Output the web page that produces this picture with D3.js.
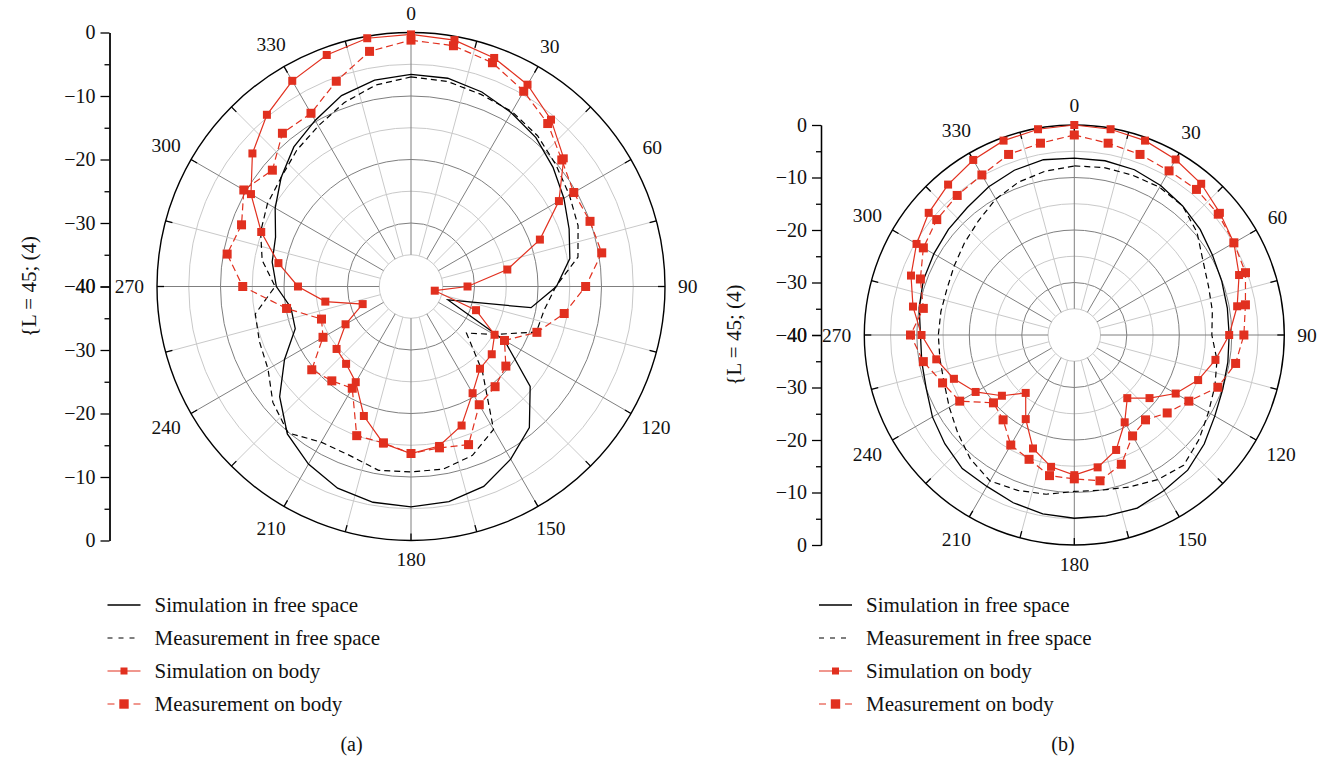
<!DOCTYPE html>
<html>
<head>
<meta charset="utf-8">
<script src="https://cdn.jsdelivr.net/npm/d3@7"></script>
<style>
  html, body { margin: 0; padding: 0; background: #fff; }
  svg { display: block; font-family: "Liberation Serif", "DejaVu Serif", serif; }
</style>
</head>
<body>
<svg id="chart" width="1337" height="759"></svg>
<script>
// Sampling angles (degrees, clockwise from top) shared by every pattern
const angles = d3.range(0, 360, 10);
const angleLabels = d3.range(0, 360, 30);
const radialMajor = [0, -10, -20, -30, -40];
const radialMinor = [-5, -15, -25, -35];
const legendLabels = ["Simulation in free space", "Measurement in free space", "Simulation on body", "Measurement on body"];
const captions = ["(a)", "(b)"];
const axisTitle = "{L = 45; (4)";

// Panel (a) gain patterns, dB
const aSimFree  = [-6.6, -6.7, -7.4, -8.4, -9.4, -10.8, -12.2, -13.5, -14.6, -17.1, -20.8, -33.8,
                   -23.0, -15.5, -11.0, -8.6, -6.5, -5.6, -5.3, -5.5, -6.2, -7.7, -9.7, -13.0,
                   -17.0, -20.6, -20.8, -18.8, -17.8, -17.3, -15.3, -13.3, -11.3, -9.8, -8.0, -7.0];
const aMeasFree = [-7.0, -7.2, -7.8, -8.2, -9.0, -10.2, -11.2, -12.0, -13.3, -17.2, -18.7, -19.0,
                   -24.9, -28.6, -22.5, -14.0, -11.7, -10.8, -10.8, -10.6, -11.7, -11.7, -9.9, -11.6,
                   -14.0, -14.6, -15.1, -18.6, -16.2, -14.8, -13.9, -13.3, -12.0, -10.8, -9.2, -7.8];
const aSimBody  = [-0.3, -0.6, -1.7, -3.3, -5.7, -8.6, -13.1, -18.4, -24.6, -31.1, -36.2, -29.1,
                   -24.8, -23.4, -23.1, -20.6, -16.7, -14.5, -13.7, -14.9, -18.3, -22.6, -24.1, -24.7,
                   -28.1, -31.9, -26.3, -22.2, -18.8, -14.9, -10.9, -7.4, -4.7, -2.6, -1.2, -0.3];
const aMeasBody = [-1.2, -1.5, -2.5, -4.5, -6.5, -9.0, -10.4, -10.0, -9.5, -12.5, -15.5, -18.9,
                   -23.0, -20.5, -19.4, -18.5, -13.5, -14.2, -13.7, -15.0, -15.0, -21.5, -20.6, -19.6,
                   -24.0, -25.0, -20.1, -13.5, -10.6, -11.6, -9.6, -11.5, -8.5, -8.5, -5.6, -2.4];

// Panel (b) gain patterns, dB
const bSimFree  = [-6.3, -6.3, -6.5, -7.1, -7.9, -8.7, -9.6, -10.1, -10.4, -10.5, -10.3, -9.9,
                   -9.1, -7.7, -6.4, -5.8, -4.9, -5.0, -5.1, -5.4, -6.0, -6.7, -6.8, -7.8,
                   -8.8, -10.0, -10.5, -10.7, -10.0, -9.4, -9.1, -8.7, -8.3, -7.4, -6.6, -6.1];
const bMeasFree = [-7.8, -7.6, -7.6, -7.5, -7.9, -9.5, -11.7, -12.8, -13.3, -13.8, -12.4, -11.5,
                   -10.5, -9.0, -7.6, -8.2, -9.2, -10.0, -10.2, -9.2, -8.5, -7.9, -9.2, -11.0,
                   -12.5, -13.6, -14.0, -14.1, -14.2, -14.2, -13.6, -12.7, -11.6, -10.1, -9.0, -8.3];
const bSimBody  = [0.0, -0.2, -0.6, -1.4, -2.4, -3.8, -4.9, -6.6, -8.5, -10.5, -12.7, -14.9,
                   -17.7, -21.3, -24.3, -20.8, -16.7, -14.4, -13.3, -14.5, -17.0, -21.5, -25.6, -22.0,
                   -18.3, -15.6, -13.3, -10.9, -8.8, -6.9, -5.3, -3.8, -2.6, -1.5, -0.6, -0.2];
const bMeasBody = [-1.9, -2.9, -3.4, -3.9, -3.8, -4.2, -4.9, -5.3, -6.9, -7.7, -8.8, -10.9,
                   -14.8, -16.9, -18.9, -17.8, -13.8, -11.8, -12.6, -12.8, -14.8, -15.8, -18.9, -19.9,
                   -14.8, -13.3, -10.8, -8.8, -10.8, -8.8, -6.8, -5.8, -5.3, -4.8, -3.4, -2.9];

const RED = "#e1301f";
const GRID_DARK = "#7f7f7f";
const GRID_LIGHT = "#c9c9c9";

const panels = [
  { cx: 411, cy: 286.5, R: 254, axisX: 109.5, titleX: 29, caption: captions[0],
    simFree: aSimFree, measFree: aMeasFree, simBody: aSimBody, measBody: aMeasBody },
  { cx: 1074.3, cy: 335, R: 210, axisX: 821, titleX: 734, caption: captions[1],
    simFree: bSimFree, measFree: bMeasFree, simBody: bSimBody, measBody: bMeasBody }
];

const svg = d3.select("#chart");
const rad = d => d * Math.PI / 180;

panels.forEach(p => {
  const g = svg.append("g");
  const r = d3.scaleLinear().domain([-40, 0]).range([0, p.R]);
  const plot = g.append("g").attr("transform", `translate(${p.cx},${p.cy})`);

  // rings every 5 dB (dark at tens) between -35 and -5
  const rings = d3.range(-35, 0, 5);
  plot.selectAll("circle.ring").data(rings).join("circle")
    .attr("r", d => r(d)).attr("fill", "none")
    .attr("stroke", d => d % 10 === 0 ? GRID_DARK : GRID_LIGHT).attr("stroke-width", 1);

  // spokes every 15 degrees
  const spokes = d3.range(0, 360, 15);
  plot.selectAll("line.spoke").data(spokes).join("line")
    .attr("x1", d => r(-35) * Math.sin(rad(d))).attr("y1", d => -r(-35) * Math.cos(rad(d)))
    .attr("x2", d => r(0) * Math.sin(rad(d))).attr("y2", d => -r(0) * Math.cos(rad(d)))
    .attr("stroke", d => d % 30 === 0 ? GRID_DARK : GRID_LIGHT).attr("stroke-width", 1);

  // outer boundary with inward ticks
  plot.append("circle").attr("r", r(0)).attr("fill", "none").attr("stroke", "#000").attr("stroke-width", 1.4);
  plot.selectAll("line.otick").data(spokes).join("line")
    .attr("x1", d => (r(0) - 7) * Math.sin(rad(d))).attr("y1", d => -(r(0) - 7) * Math.cos(rad(d)))
    .attr("x2", d => r(0) * Math.sin(rad(d))).attr("y2", d => -r(0) * Math.cos(rad(d)))
    .attr("stroke", "#000").attr("stroke-width", 1.3);

  // angle labels
  angleLabels.forEach(a => {
    const t = plot.append("text").text(a)
      .attr("font-size", 19.5).attr("fill", "#111")
      .attr("text-anchor", "middle").attr("dominant-baseline", "central");
    const w = t.node().getComputedTextLength();
    const s = Math.sin(rad(a)), c = Math.cos(rad(a));
    const dist = r(0) + 13 + (w / 2) * Math.abs(s) + 6.3 * Math.abs(c);
    t.attr("x", dist * s).attr("y", -dist * c);
  });

  // patterns
  const line = d3.lineRadial()
    .angle((d, i) => rad(angles[i]))
    .radius(d => r(d))
    .curve(d3.curveLinearClosed);

  plot.append("path").datum(p.simFree).attr("d", line)
    .attr("fill", "none").attr("stroke", "#000").attr("stroke-width", 1.3);
  plot.append("path").datum(p.measFree).attr("d", line)
    .attr("fill", "none").attr("stroke", "#000").attr("stroke-width", 1.2).attr("stroke-dasharray", "6,4");
  plot.append("path").datum(p.measBody).attr("d", line)
    .attr("fill", "none").attr("stroke", RED).attr("stroke-width", 1.2).attr("stroke-dasharray", "7,4");
  plot.append("path").datum(p.simBody).attr("d", line)
    .attr("fill", "none").attr("stroke", RED).attr("stroke-width", 1.2);

  const drawMarkers = (vals, size) => {
    plot.append("g").selectAll("rect").data(vals).join("rect")
      .attr("x", (d, i) => r(d) * Math.sin(rad(angles[i])) - size / 2)
      .attr("y", (d, i) => -r(d) * Math.cos(rad(angles[i])) - size / 2)
      .attr("width", size).attr("height", size).attr("fill", RED);
  };
  drawMarkers(p.measBody, 9);
  drawMarkers(p.simBody, 8);

  // radial axis on the left: 0 at the rim, -40 at the centre, mirrored below
  const yTop = d3.scaleLinear().domain([-40, 0]).range([p.cy, p.cy - p.R]);
  const yBot = d3.scaleLinear().domain([-40, 0]).range([p.cy, p.cy + p.R]);
  const ax = g.append("g").attr("transform", `translate(${p.axisX},0)`);
  const styleAxis = sel => {
    sel.attr("font-family", null).attr("font-size", 20);
    sel.selectAll("path.domain").attr("stroke", "#000").attr("stroke-width", 1.3);
    sel.selectAll(".tick line").attr("stroke", "#000").attr("stroke-width", 1.3);
    sel.selectAll(".tick text").attr("fill", "#111");
  };
  [yTop, yBot].forEach(sc => {
    ax.append("g").call(d3.axisLeft(sc).tickValues(radialMajor).tickSize(9).tickSizeOuter(0)
      .tickPadding(5).tickFormat(d3.format("d"))).call(styleAxis);
    ax.append("g").call(d3.axisLeft(sc).tickValues(radialMinor).tickSize(5).tickSizeOuter(0)
      .tickFormat("")).call(styleAxis);
  });

  g.append("text").text(axisTitle)
    .attr("transform", `translate(${p.titleX},${p.cy}) rotate(-90)`)
    .attr("text-anchor", "middle").attr("dominant-baseline", "central")
    .attr("font-size", 21).attr("fill", "#111");

  // legend
  const lx = p.axisX - 2;
  const leg = g.append("g");
  legendLabels.forEach((label, i) => {
    const y = 605 + i * 33;
    const row = leg.append("g");
    if (i === 0) {
      row.append("line").attr("x1", lx).attr("x2", lx + 33).attr("y1", y).attr("y2", y)
        .attr("stroke", "#000").attr("stroke-width", 1.3);
    } else if (i === 1) {
      row.append("line").attr("x1", lx).attr("x2", lx + 33).attr("y1", y).attr("y2", y)
        .attr("stroke", "#000").attr("stroke-width", 1.2).attr("stroke-dasharray", "5,6");
    } else if (i === 2) {
      row.append("line").attr("x1", lx).attr("x2", lx + 33).attr("y1", y).attr("y2", y)
        .attr("stroke", RED).attr("stroke-width", 1.2);
      row.append("rect").attr("x", lx + 16.5 - 3.5).attr("y", y - 3.5).attr("width", 7).attr("height", 7).attr("fill", RED);
    } else {
      row.append("line").attr("x1", lx).attr("x2", lx + 33).attr("y1", y).attr("y2", y)
        .attr("stroke", RED).attr("stroke-width", 1.2).attr("stroke-dasharray", "7,19,7");
      row.append("rect").attr("x", lx + 16.5 - 4.7).attr("y", y - 4.7).attr("width", 9.4).attr("height", 9.4).attr("fill", RED);
    }
    row.append("text").text(label).attr("x", lx + 47).attr("y", y)
      .attr("dominant-baseline", "central").attr("font-size", 21).attr("fill", "#111");
  });

  g.append("text").text(p.caption).attr("x", p.axisX + 242).attr("y", 744)
    .attr("text-anchor", "middle").attr("dominant-baseline", "central")
    .attr("font-size", 20).attr("fill", "#111");
});
</script>
</body>
</html>
